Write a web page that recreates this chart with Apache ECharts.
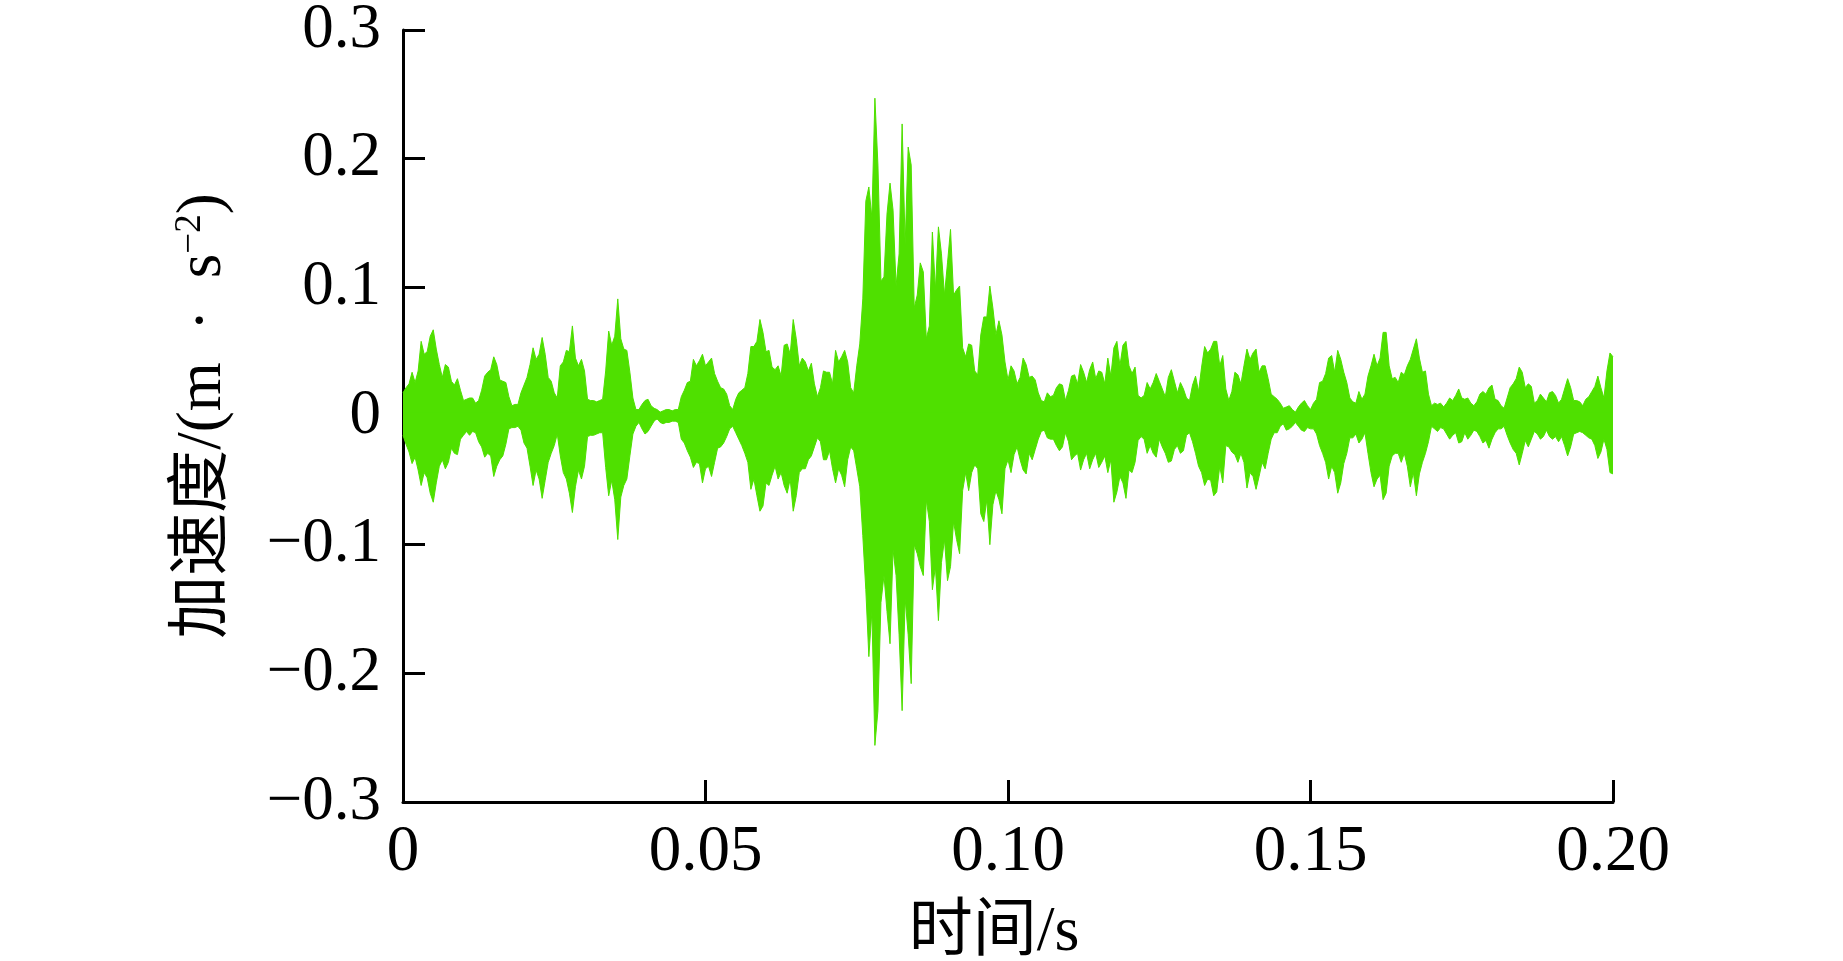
<!DOCTYPE html>
<html>
<head>
<meta charset="utf-8">
<title>加速度时程</title>
<script src="https://cdn.jsdelivr.net/npm/echarts@6/dist/echarts.min.js"></script>
<style>
  html, body { margin: 0; padding: 0; background: #fff; }
  #chart { width: 1843px; height: 961px; }
</style>
</head>
<body>
<div id="chart"></div>
<script>
// sampling step of the read-off envelope (s)
const sampleStep = 0.0005

// upper envelope (m/s^2), one value per sample, t = 0 .. 0.2 s
const upperPeaks = [
  0.018,0.022,0.025,0.034,0.026,0.035,0.058,0.048,0.050,0.062,
  0.067,0.052,0.040,0.030,0.040,0.038,0.027,0.024,0.029,0.020,
  0.012,0.013,0.014,0.014,0.010,0.012,0.020,0.031,0.034,0.036,
  0.046,0.040,0.028,0.027,0.026,0.015,0.008,0.009,0.009,0.018,
  0.024,0.030,0.040,0.053,0.044,0.048,0.061,0.048,0.030,0.027,
  0.018,0.014,0.039,0.042,0.051,0.050,0.070,0.045,0.039,0.044,
  0.035,0.013,0.012,0.012,0.011,0.012,0.013,0.035,0.066,0.055,
  0.062,0.091,0.060,0.052,0.051,0.034,0.014,0.005,0.005,0.009,
  0.012,0.013,0.008,0.006,0.005,0.003,0.004,0.005,0.005,0.004,
  0.005,0.005,0.015,0.020,0.026,0.027,0.044,0.039,0.043,0.048,
  0.039,0.042,0.045,0.033,0.027,0.022,0.021,0.017,0.008,0.005,
  0.013,0.018,0.020,0.022,0.033,0.054,0.054,0.058,0.075,0.065,
  0.050,0.051,0.038,0.036,0.039,0.031,0.055,0.056,0.048,0.075,
  0.060,0.039,0.045,0.042,0.035,0.041,0.025,0.015,0.022,0.035,
  0.034,0.034,0.025,0.051,0.042,0.046,0.051,0.042,0.022,0.018,
  0.039,0.056,0.091,0.167,0.178,0.154,0.247,0.195,0.105,0.108,
  0.157,0.181,0.160,0.101,0.126,0.227,0.133,0.209,0.195,0.084,
  0.094,0.119,0.112,0.060,0.070,0.143,0.098,0.147,0.126,0.094,
  0.119,0.145,0.094,0.098,0.101,0.053,0.046,0.056,0.055,0.035,
  0.032,0.063,0.077,0.077,0.101,0.084,0.063,0.074,0.063,0.042,
  0.028,0.039,0.035,0.025,0.030,0.045,0.040,0.030,0.031,0.028,
  0.018,0.012,0.011,0.018,0.015,0.016,0.022,0.025,0.024,0.012,
  0.020,0.031,0.032,0.025,0.040,0.034,0.026,0.036,0.042,0.029,
  0.035,0.034,0.025,0.045,0.031,0.053,0.058,0.039,0.055,0.058,
  0.039,0.033,0.038,0.016,0.014,0.016,0.026,0.021,0.026,0.033,
  0.027,0.021,0.015,0.030,0.036,0.027,0.018,0.026,0.021,0.014,
  0.012,0.024,0.031,0.019,0.038,0.054,0.049,0.052,0.058,0.058,
  0.039,0.047,0.021,0.012,0.019,0.034,0.032,0.025,0.039,0.052,
  0.044,0.049,0.052,0.034,0.039,0.039,0.029,0.017,0.015,0.013,
  0.010,0.006,0.007,0.008,0.005,0.003,0.007,0.010,0.012,0.008,
  0.005,0.010,0.013,0.026,0.027,0.033,0.045,0.047,0.034,0.051,
  0.044,0.034,0.026,0.014,0.011,0.010,0.019,0.013,0.017,0.031,
  0.039,0.048,0.039,0.045,0.065,0.065,0.039,0.029,0.030,0.026,
  0.034,0.032,0.039,0.044,0.052,0.060,0.045,0.034,0.035,0.017,
  0.008,0.010,0.009,0.010,0.007,0.010,0.014,0.012,0.016,0.021,
  0.014,0.013,0.014,0.010,0.008,0.011,0.017,0.019,0.017,0.022,
  0.024,0.013,0.012,0.008,0.006,0.014,0.022,0.025,0.029,0.038,
  0.034,0.022,0.025,0.023,0.010,0.012,0.017,0.014,0.011,0.018,
  0.019,0.016,0.010,0.013,0.021,0.029,0.022,0.012,0.012,0.011,
  0.008,0.013,0.015,0.019,0.023,0.031,0.022,0.014,0.035,0.049,
  0.046
]

// lower envelope (m/s^2), same samples
const lowerPeaks = [
  -0.015,-0.022,-0.028,-0.037,-0.032,-0.042,-0.054,-0.044,-0.048,-0.060,
  -0.067,-0.052,-0.039,-0.034,-0.041,-0.036,-0.025,-0.029,-0.030,-0.018,
  -0.015,-0.012,-0.015,-0.012,-0.013,-0.020,-0.024,-0.032,-0.029,-0.031,
  -0.047,-0.039,-0.034,-0.031,-0.022,-0.010,-0.009,-0.009,-0.008,-0.011,
  -0.021,-0.025,-0.039,-0.054,-0.042,-0.049,-0.064,-0.050,-0.036,-0.029,
  -0.023,-0.014,-0.031,-0.044,-0.049,-0.060,-0.075,-0.055,-0.042,-0.049,
  -0.039,-0.016,-0.015,-0.015,-0.014,-0.013,-0.013,-0.040,-0.062,-0.050,
  -0.065,-0.096,-0.063,-0.054,-0.049,-0.031,-0.014,-0.008,-0.005,-0.010,
  -0.014,-0.012,-0.008,-0.004,-0.002,-0.005,-0.006,-0.005,-0.005,-0.004,
  -0.004,-0.005,-0.018,-0.021,-0.027,-0.032,-0.040,-0.036,-0.037,-0.052,
  -0.041,-0.039,-0.047,-0.036,-0.025,-0.024,-0.021,-0.016,-0.010,-0.008,
  -0.013,-0.018,-0.023,-0.029,-0.036,-0.057,-0.049,-0.062,-0.074,-0.070,
  -0.052,-0.054,-0.046,-0.039,-0.049,-0.044,-0.054,-0.060,-0.049,-0.074,
  -0.062,-0.044,-0.041,-0.041,-0.034,-0.031,-0.024,-0.017,-0.020,-0.034,
  -0.034,-0.027,-0.041,-0.052,-0.041,-0.046,-0.055,-0.034,-0.024,-0.027,
  -0.041,-0.055,-0.093,-0.135,-0.187,-0.152,-0.256,-0.229,-0.145,-0.124,
  -0.152,-0.177,-0.104,-0.124,-0.170,-0.229,-0.142,-0.170,-0.208,-0.100,
  -0.107,-0.117,-0.124,-0.065,-0.082,-0.135,-0.117,-0.159,-0.114,-0.096,
  -0.128,-0.117,-0.082,-0.096,-0.107,-0.058,-0.044,-0.058,-0.044,-0.038,
  -0.041,-0.076,-0.082,-0.065,-0.100,-0.069,-0.058,-0.065,-0.076,-0.041,
  -0.034,-0.044,-0.030,-0.024,-0.034,-0.042,-0.045,-0.029,-0.034,-0.026,
  -0.018,-0.012,-0.011,-0.017,-0.018,-0.018,-0.023,-0.027,-0.024,-0.013,
  -0.020,-0.034,-0.031,-0.029,-0.042,-0.034,-0.029,-0.041,-0.034,-0.029,
  -0.040,-0.036,-0.031,-0.044,-0.034,-0.067,-0.059,-0.047,-0.052,-0.064,
  -0.042,-0.044,-0.036,-0.019,-0.016,-0.018,-0.029,-0.023,-0.029,-0.032,
  -0.018,-0.024,-0.029,-0.036,-0.035,-0.026,-0.023,-0.029,-0.027,-0.015,
  -0.013,-0.020,-0.029,-0.039,-0.044,-0.054,-0.049,-0.050,-0.062,-0.059,
  -0.039,-0.052,-0.023,-0.024,-0.028,-0.030,-0.036,-0.029,-0.036,-0.056,
  -0.044,-0.047,-0.057,-0.047,-0.036,-0.041,-0.029,-0.018,-0.013,-0.013,
  -0.008,-0.006,-0.011,-0.010,-0.008,-0.005,-0.008,-0.011,-0.012,-0.009,
  -0.010,-0.010,-0.014,-0.023,-0.029,-0.036,-0.049,-0.039,-0.044,-0.060,
  -0.052,-0.037,-0.029,-0.017,-0.017,-0.014,-0.021,-0.018,-0.013,-0.029,
  -0.044,-0.055,-0.049,-0.046,-0.065,-0.060,-0.039,-0.031,-0.029,-0.029,
  -0.036,-0.029,-0.039,-0.055,-0.044,-0.062,-0.045,-0.036,-0.029,-0.020,
  -0.008,-0.010,-0.012,-0.009,-0.010,-0.014,-0.018,-0.015,-0.013,-0.021,
  -0.020,-0.013,-0.018,-0.015,-0.011,-0.012,-0.016,-0.021,-0.019,-0.025,
  -0.018,-0.013,-0.010,-0.010,-0.008,-0.015,-0.021,-0.026,-0.029,-0.038,
  -0.029,-0.019,-0.024,-0.018,-0.012,-0.014,-0.018,-0.016,-0.011,-0.016,
  -0.018,-0.016,-0.020,-0.016,-0.023,-0.031,-0.024,-0.014,-0.013,-0.012,
  -0.013,-0.015,-0.017,-0.018,-0.023,-0.033,-0.028,-0.018,-0.026,-0.044,
  -0.045
]

const xTicks = [0, 0.05, 0.10, 0.15, 0.20]
const yTicks = [-0.3, -0.2, -0.1, 0, 0.1, 0.2, 0.3]

const green = '#4fe000'
const serif = '"Liberation Serif", "Times New Roman", "Noto Sans CJK SC", serif'

const upperData = upperPeaks.map((v, i) => [i * sampleStep, v])
const lowerData = lowerPeaks.map((v, i) => [i * sampleStep, v])

function fmtX(v) {
  if (Math.abs(v) < 1e-9) return '0'
  return v.toFixed(2)
}
function fmtY(v) {
  const r = Math.round(v * 10) / 10
  if (r === 0) return '0'
  return (r < 0 ? '\u2212' : '') + Math.abs(r).toFixed(1)
}

const axisCommon = {
  axisLine: { onZero: false, lineStyle: { color: '#000', width: 3 } },
  axisTick: { inside: true, length: 22, lineStyle: { color: '#000', width: 3 } },
  splitLine: { show: false }
}

const option = {
  animation: false,
  backgroundColor: '#fff',
  grid: { left: 403, right: 230, top: 30, bottom: 159, outerBoundsMode: 'none' },
  xAxis: {
    ...axisCommon,
    type: 'value',
    min: xTicks[0],
    max: xTicks[xTicks.length - 1],
    interval: 0.05,
    axisLabel: {
      formatter: fmtX,
      color: '#000',
      fontFamily: serif,
      fontSize: 65,
      margin: 18
    },
    name: '时间/s',
    nameLocation: 'middle',
    nameGap: 99,
    nameTextStyle: {
      color: '#000',
      fontFamily: serif,
      fontSize: 64,
      padding: [0, 28, 0, 0]
    }
  },
  yAxis: {
    ...axisCommon,
    type: 'value',
    min: yTicks[0],
    max: yTicks[yTicks.length - 1],
    interval: 0.1,
    axisLabel: {
      formatter: fmtY,
      color: '#000',
      fontFamily: serif,
      fontSize: 63,
      margin: 22
    },
    name: '加速度/(m\u2002·\u2002s{sup|\u22122})',
    nameLocation: 'middle',
    nameGap: 168,
    nameRotate: 90,
    nameTextStyle: {
      color: '#000',
      fontFamily: serif,
      fontSize: 63,
      rich: {
        sup: {
          fontFamily: serif,
          fontSize: 37,
          color: '#000',
          verticalAlign: 'top',
          padding: [0, 0, 26, 0]
        }
      }
    }
  },
  series: [
    {
      name: 'upper',
      type: 'line',
      data: upperData,
      symbol: 'none',
      lineStyle: { color: green, width: 1 },
      // fill a hair past zero so the two halves overlap without a seam
      areaStyle: { color: green, opacity: 1, origin: -0.003 },
      silent: true
    },
    {
      name: 'lower',
      type: 'line',
      data: lowerData,
      symbol: 'none',
      lineStyle: { color: green, width: 1 },
      areaStyle: { color: green, opacity: 1, origin: 0.003 },
      silent: true
    }
  ]
}

const chart = echarts.init(document.getElementById('chart'))
chart.setOption(option)
</script>
</body>
</html>
